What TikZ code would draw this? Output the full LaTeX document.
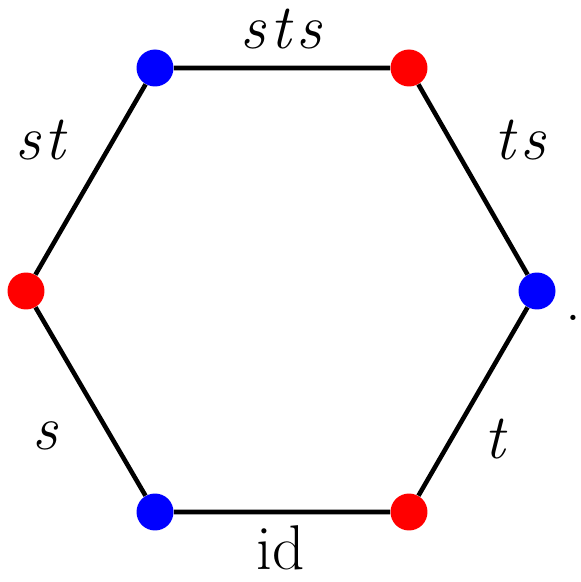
\documentclass[tikz,border=0pt]{standalone}
\begin{document}
\begin{tikzpicture}[x=0.02cm,y=0.02cm,
    elt/.style={circle, fill=#1, minimum size=0.74cm, inner sep=0pt},
    lbl/.style={font=\fontsize{36}{42}\selectfont, inner sep=0pt},
    edge/.style={line width=2.6pt}]
    \useasboundingbox (0,0) rectangle (581,582);
    % Draw vertices
    \node[elt=blue] (v1) at (155,514) {};
    \node[elt=red]  (v2) at (409,514) {};
    \node[elt=blue] (v3) at (537,291) {};
    \node[elt=red]  (v4) at (409,70) {};
    \node[elt=blue] (v5) at (155,70) {};
    \node[elt=red]  (v6) at (26,291) {};
    
    % Draw edges
    \draw[edge] (v1) -- (v2) -- (v3) -- (v4) -- (v5) -- (v6) -- (v1);
    
    % Label edges
    \node[lbl] (lsts) at (281,553) {\itshape s\kern3pt t\kern3pt s};
    \node[lbl] (lst) at (40,442) {\itshape s\kern2pt t};
    \node[lbl] (lts) at (520,442) {\itshape t\kern3pt s};
    \node[lbl] (ls) at (45,146) {\itshape s};
    \node[lbl] (lt) at (495,143) {\itshape t};
    \node[lbl] (lid) at (281,34) {id};
    \node[lbl] (dot) at (573,264) {.};
    
\end{tikzpicture}
\end{document}
